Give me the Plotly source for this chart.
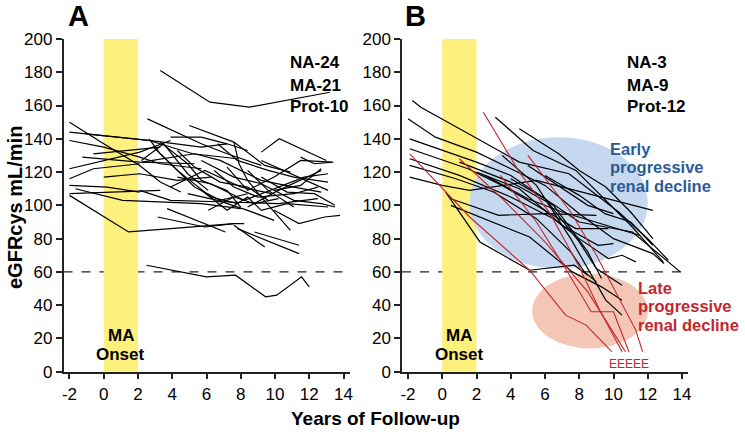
import plotly.graph_objects as go

# ---------------- data (years of follow-up, eGFRcys) ----------------
panel_a_patients = [
    [(3.3, 181), (6.2, 162), (8.5, 159), (13.2, 168)],
    [(2.5, 64), (6.0, 57), (7.7, 58), (9.45, 45), (10.1, 46), (11.55, 57), (12.0, 51)],
    [(-2.0, 150), (0.0, 137), (2.1, 124), (3.3, 114), (4.5, 108)],
    [(-2.0, 144), (2.65, 139), (5.7, 135), (7.2, 137)],
    [(-1.05, 143), (2.65, 139), (5.2, 131), (7.8, 128)],
    [(-2.0, 139), (0.0, 135), (2.1, 129), (3.3, 125), (5.7, 122)],
    [(-2.0, 122), (0.0, 127), (2.1, 132), (3.9, 139)],
    [(-2.0, 116), (-0.6, 122), (2.1, 125)],
    [(-2.0, 112), (0.2, 111), (2.1, 108)],
    [(-2.0, 106), (1.45, 84), (3.9, 86), (7.6, 89), (8.2, 89)],
    [(-1.65, 110), (1.1, 103), (5.7, 101), (8.0, 98)],
    [(-2.0, 107), (3.3, 109)],
    [(-1.25, 129), (2.1, 126), (5.3, 125)],
    [(2.55, 152), (5.7, 137), (7.2, 131), (9.2, 124)],
    [(5.0, 148), (7.6, 138), (9.4, 124), (10.9, 120)],
    [(9.2, 132), (10.25, 140), (13.0, 127)],
    [(9.95, 97), (11.4, 89), (12.9, 93), (13.8, 94)],
    [(7.6, 88), (9.4, 75)],
    [(7.8, 86), (11.4, 71)],
    [(8.8, 84), (11.4, 76)],
    [(3.15, 93), (5.9, 87), (7.6, 89)],
    [(3.7, 98), (7.1, 84)],
    [(7.6, 138), (7.9, 125), (8.4, 115), (9.2, 105), (10.9, 85)],
    [(2.65, 140), (3.3, 131), (5.3, 111), (6.8, 103), (8.4, 107)],
    [(3.3, 138), (4.9, 125), (5.7, 115), (7.2, 109), (8.0, 99)],
    [(2.2, 126), (5.3, 131), (6.8, 127), (9.2, 115), (11.1, 111), (12.7, 108)],
    [(2.1, 109), (3.9, 103), (7.2, 102), (10.2, 101), (12.5, 104)],
    [(9.95, 109), (11.5, 112), (12.7, 122)],
    [(8.4, 99), (10.2, 109), (12.7, 121)],
    [(7.2, 123), (8.4, 109), (9.95, 117), (11.5, 127), (13.3, 126)],
    [(5.7, 109), (7.2, 97), (8.4, 105), (9.2, 97), (10.7, 101), (13.1, 99)],
    [(4.3, 117), (6.25, 113), (8.2, 103), (10.2, 111), (11.7, 117), (13.1, 119)],
    [(5.7, 127), (7.6, 117), (9.2, 113), (11.1, 103), (12.7, 101), (13.5, 99)],
    [(3.9, 111), (5.9, 121), (8.0, 111), (9.8, 107)],
    [(2.9, 135), (4.3, 121), (6.25, 105), (7.8, 101)],
    [(2.2, 127), (3.5, 137), (4.9, 119), (6.1, 109)],
    [(6.65, 137), (7.8, 127), (9.6, 121), (11.1, 117), (13.1, 114)],
    [(11.5, 129), (12.3, 125), (13.4, 126)],
    [(9.2, 127), (11.1, 118), (13.1, 109)],
    [(8.4, 121), (9.6, 109), (11.1, 99)],
    [(4.9, 107), (6.65, 103), (8.4, 97), (9.95, 91)],
    [(3.9, 141), (5.7, 141), (7.2, 137), (8.4, 133)],
    [(0.0, 117), (2.1, 119), (4.3, 115), (6.25, 117)],
    [(-0.6, 131), (2.1, 134), (3.3, 135)],
    [(6.45, 121), (7.6, 111), (9.0, 105), (11.1, 107), (12.5, 111)],
    [(4.3, 133), (5.3, 123), (6.8, 114), (8.4, 111), (9.6, 103)],
    [(9.2, 117), (10.7, 108), (12.3, 107), (13.5, 100)],
    [(6.1, 97), (7.6, 105), (8.8, 101), (10.2, 104)],
]

panel_b_black = [
    [(-1.75, 163), (-1.25, 159), (1.9, 141), (4.5, 126), (7.4, 119), (9.2, 105), (10.3, 96), (12.0, 80), (13.2, 67)],
    [(-2.0, 152), (-0.4, 141), (2.0, 132), (4.0, 122), (6.0, 112), (8.0, 95), (10.0, 80), (12.3, 71), (12.95, 65)],
    [(-1.9, 140), (0.0, 133), (2.0, 126), (4.0, 118), (6.0, 104), (8.0, 90), (11.1, 84), (13.9, 60)],
    [(3.1, 153), (5.3, 133), (7.8, 121), (9.75, 101), (11.1, 87), (12.9, 66)],
    [(4.5, 146), (6.8, 131), (8.0, 121), (9.55, 111), (11.0, 96), (12.3, 80)],
    [(-1.9, 117), (0.0, 112), (1.6, 109), (5.5, 115), (12.3, 97)],
    [(0.5, 104), (3.3, 94), (6.05, 95), (9.0, 94)],
    [(0.5, 100), (3.9, 86), (5.1, 81), (7.6, 60), (9.3, 51), (10.5, 43)],
    [(0.2, 108), (2.2, 78), (5.1, 61), (7.7, 64), (8.5, 58)],
    [(-1.9, 128), (1.0, 118), (4.0, 105), (6.5, 92), (8.0, 80), (9.7, 68), (10.5, 70), (11.3, 66)],
    [(-1.9, 134), (1.5, 122), (3.5, 112), (5.5, 100), (7.8, 86), (9.7, 86)],
    [(2.0, 120), (4.5, 110), (7.0, 88), (9.1, 76), (10.0, 77)],
    [(3.5, 130), (5.5, 112), (7.5, 80), (8.5, 62), (9.55, 43), (10.5, 34)],
    [(5.0, 124), (7.0, 110), (8.5, 100), (10.0, 95)],
    [(-1.9, 124), (0.8, 116), (3.0, 108), (5.5, 92), (7.5, 72), (8.3, 60), (9.0, 54)],
    [(4.0, 116), (6.0, 104), (8.0, 78), (9.0, 62), (10.5, 52)],
    [(1.0, 126), (4.0, 114), (6.5, 100), (8.5, 72), (9.3, 56)],
    [(6.0, 118), (8.0, 106), (9.5, 95), (11.0, 90), (12.3, 76)],
    [(2.5, 118), (5.0, 104), (7.0, 96), (9.5, 88), (11.5, 82)],
]

panel_b_red = [
    [(-1.9, 131), (1.6, 93), (5.1, 61), (7.2, 34), (8.4, 28), (9.9, 12)],
    [(2.4, 156), (4.5, 120), (6.3, 95), (8.0, 63), (9.2, 37), (10.5, 12)],
    [(3.4, 118), (5.5, 90), (7.2, 62), (8.7, 36), (10.0, 36), (10.9, 12)],
    [(1.0, 128), (3.5, 104), (6.0, 78), (8.5, 48), (10.7, 12)],
    [(5.0, 130), (7.5, 96), (9.0, 70), (10.7, 37), (11.3, 25), (11.7, 12)],
]

x_ticks = [-2, 0, 2, 4, 6, 8, 10, 12, 14]
x_tick_labels = ["-2", "0", "2", "4", "6", "8", "10", "12", "14"]
y_ticks = [0, 20, 40, 60, 80, 100, 120, 140, 160, 180, 200]
panel_a_counts = ["NA-24", "MA-21", "Prot-10"]
panel_b_counts = ["NA-3", "MA-9", "Prot-12"]
early_label = ["Early", "progressive", "renal decline"]
late_label = ["Late", "progressive", "renal decline"]

# ---------------- figure ----------------
W, H = 745, 439
FONT = "Liberation Sans, Arial, sans-serif"
RED = "#c3262d"
BLUE_TXT = "#2b5b97"

fig = go.Figure()


def add_lines(patients, xa, ya, color, width):
    for p in patients:
        fig.add_trace(go.Scatter(
            x=[pt[0] for pt in p], y=[pt[1] for pt in p],
            mode="lines", line=dict(color=color, width=width),
            xaxis=xa, yaxis=ya, hoverinfo="skip", showlegend=False))


add_lines(panel_a_patients, "x", "y", "black", 1.2)
add_lines(panel_b_black, "x2", "y2", "black", 1.2)
add_lines(panel_b_red, "x2", "y2", RED, 1.1)

axis_common = dict(showgrid=False, zeroline=False, showline=True, linecolor="#222",
                   linewidth=1.5, ticks="outside", ticklen=6, tickwidth=1.5, automargin=False,
                   tickcolor="#222", tickfont=dict(family=FONT, size=17, color="black"))
xr = [-2.35, 14.35]
ydom = [1 - 371.7 / H, 1 - 39 / H]
fig.update_layout(
    template="none",
    width=W, height=H, margin=dict(l=0, r=0, t=0, b=0, pad=0, autoexpand=False),
    font=dict(family=FONT, color="black"),
    paper_bgcolor="white", plot_bgcolor="white", showlegend=False,
    xaxis=dict(domain=[63.5 / W, 349.5 / W], range=xr, tickvals=x_ticks, ticktext=x_tick_labels,
               anchor="y", **axis_common),
    yaxis=dict(domain=ydom, range=[0, 200], tickvals=y_ticks, anchor="x", **axis_common),
    xaxis2=dict(domain=[402 / W, 688 / W], range=xr, tickvals=x_ticks, ticktext=x_tick_labels,
                anchor="y2", **axis_common),
    yaxis2=dict(domain=ydom, range=[0, 200], tickvals=y_ticks, anchor="x2", **axis_common),
)

shapes = []
for xa, ya in (("x", "y"), ("x2", "y2")):
    shapes.append(dict(type="rect", xref=xa, yref=ya, x0=0, x1=2, y0=0, y1=200,
                       fillcolor="#fdf07c", line=dict(width=0), layer="below"))
shapes.append(dict(type="circle", xref="x2", yref="y2", x0=1.6, x1=12.0, y0=62, y1=141,
                   fillcolor="#c5d8ef", line=dict(width=0), layer="below"))
shapes.append(dict(type="circle", xref="x2", yref="y2", x0=5.25, x1=12.0, y0=14, y1=59,
                   fillcolor="#f3c6b6", line=dict(width=0), layer="below"))
for xa, ya in (("x", "y"), ("x2", "y2")):
    shapes.append(dict(type="line", xref=xa + " domain", yref=ya, x0=0, x1=1, y0=60, y1=60,
                       line=dict(color="#222", width=1.3, dash="dash"), layer="below"))
fig.update_layout(shapes=shapes)

ann = []


def txt(text, x, y, size, color="black", bold=True, xanchor="center", xref="paper", yref="paper", angle=0):
    ann.append(dict(text=("<b>%s</b>" % text) if bold else text, x=x, y=y, xref=xref, yref=yref,
                    showarrow=False, xanchor=xanchor, yanchor="middle", textangle=angle,
                    borderpad=0, font=dict(family=FONT, size=size, color=color)))


txt("A", 78 / W, 1 - 16 / H, 29)
txt("B", 415 / W, 1 - 16 / H, 29)
txt("eGFRcys mL/min", 15 / W, 1 - 208 / H, 20, angle=-90)
txt("Years of Follow-up", 375 / W, 1 - 418 / H, 19)
for xa, ya in (("x", "y"), ("x2", "y2")):
    txt("MA", 1, 21.8, 17, xref=xa, yref=ya)
    txt("Onset", 1, 10.4, 17, xref=xa, yref=ya)
for i, t in enumerate(panel_a_counts):
    txt(t, 289 / W, 1 - (63 + 22 * i) / H, 17, xanchor="left")
for i, t in enumerate(panel_b_counts):
    txt(t, 626 / W, 1 - (63 + 22 * i) / H, 17, xanchor="left")
for i, t in enumerate(early_label):
    txt(t, 609 / W, 1 - (148.5 + 18.6 * i) / H, 16.5, color=BLUE_TXT, xanchor="left")
for i, t in enumerate(late_label):
    txt(t, 637 / W, 1 - (287.5 + 18.6 * i) / H, 16.5, color=RED, xanchor="left")
txt("EEEEE", 10.9, 4.6, 12, color=RED, bold=False, xref="x2", yref="y2")
fig.update_layout(annotations=ann)

fig.write_html("out.html", config={"displayModeBar": False},
               post_script="document.body.style.margin='0';document.body.style.overflow='hidden';")
